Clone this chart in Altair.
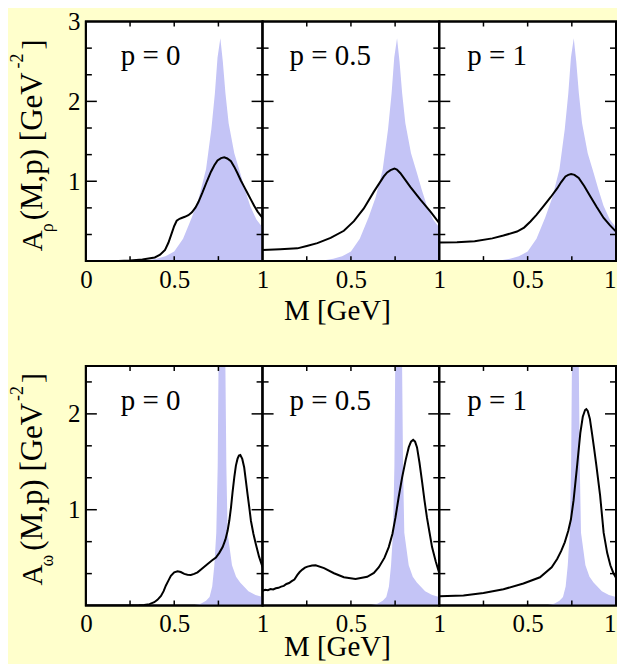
import altair as alt
import pandas as pd

# ---------------- data ----------------
# vacuum rho spectral function (blue shaded, same in all top panels)
rho_vac_M = [0.30, 0.35, 0.40, 0.45, 0.50, 0.55, 0.60, 0.64, 0.68, 0.71, 0.73, 0.745, 0.761,
             0.775, 0.79, 0.808, 0.84, 0.874, 0.90, 0.93, 0.965, 1.0]
rho_vac_A = [0.0, 0.01, 0.03, 0.06, 0.12, 0.28, 0.55, 0.80, 1.15, 1.65, 2.10, 2.55, 2.79,
             2.50, 2.10, 1.725, 1.35, 1.10, 0.90, 0.69, 0.52, 0.42]

# in-medium rho, p = 0
rho_p0_M = [0, 0.15, 0.25, 0.32, 0.39, 0.42, 0.448, 0.467, 0.486, 0.50, 0.514, 0.53, 0.542, 0.56,
            0.58, 0.60, 0.62, 0.637, 0.66, 0.685, 0.708, 0.727, 0.745, 0.765, 0.783, 0.80, 0.821,
            0.84, 0.858, 0.877, 0.896, 0.915, 0.934, 0.953, 0.972, 0.986, 1.0]
rho_p0_A = [0, 0.0, 0.009, 0.02, 0.046, 0.08, 0.14, 0.23, 0.35, 0.44, 0.505, 0.53, 0.54, 0.555,
            0.575, 0.61, 0.67, 0.74, 0.86, 1.0, 1.12, 1.2, 1.26, 1.29, 1.30, 1.285, 1.25,
            1.18, 1.10, 1.01, 0.93, 0.85, 0.77, 0.69, 0.62, 0.58, 0.54]

# in-medium rho, p = 0.5
rho_p05_M = [0, 0.1, 0.197, 0.25, 0.31, 0.385, 0.46, 0.517, 0.573, 0.63, 0.686, 0.705, 0.724,
             0.746, 0.76, 0.78, 0.836, 0.893, 0.95, 1.0]
rho_p05_A = [0.14, 0.148, 0.16, 0.19, 0.225, 0.29, 0.38, 0.50, 0.66, 0.87, 1.06, 1.11, 1.14,
             1.16, 1.145, 1.10, 0.93, 0.77, 0.62, 0.475]

# in-medium rho, p = 1
rho_p1_M = [0, 0.1, 0.2, 0.3, 0.363, 0.44, 0.48, 0.516, 0.55, 0.59, 0.63, 0.667, 0.69, 0.714,
            0.73, 0.746, 0.765, 0.789, 0.82, 0.855, 0.89, 0.93, 0.965, 1.0]
rho_p1_A = [0.233, 0.236, 0.248, 0.285, 0.32, 0.37, 0.42, 0.496, 0.58, 0.69, 0.80, 0.91, 0.99,
            1.06, 1.08, 1.09, 1.08, 1.04, 0.94, 0.81, 0.68, 0.54, 0.45, 0.37]

# vacuum omega spectral function (blue shaded, clipped at the top)
om_vac_M = [0.60, 0.65, 0.68, 0.70, 0.715, 0.727, 0.738, 0.746, 0.751, 0.76, 0.77, 0.78, 0.789,
            0.795, 0.802, 0.827, 0.85, 0.873, 0.92, 0.96, 1.0]
om_vac_A = [0.0, 0.02, 0.05, 0.09, 0.20, 0.42, 0.76, 1.46, 2.6, 4.0, 5.0, 4.0, 2.6,
            1.46, 0.76, 0.42, 0.30, 0.24, 0.15, 0.11, 0.09]

# in-medium omega, p = 0
om_p0_M = [0, 0.2, 0.3, 0.33, 0.36, 0.387, 0.405, 0.425, 0.44, 0.453, 0.467, 0.481, 0.5, 0.519,
           0.537, 0.557, 0.575, 0.594, 0.613, 0.632, 0.66, 0.689, 0.713, 0.736, 0.755, 0.774,
           0.79, 0.802, 0.812, 0.821, 0.83, 0.84, 0.849, 0.858, 0.866, 0.874, 0.885, 0.896,
           0.905, 0.915, 0.925, 0.934, 0.948, 0.962, 0.98, 1.0]
om_p0_A = [0, 0, 0.002, 0.007, 0.015, 0.035, 0.06, 0.10, 0.15, 0.21, 0.26, 0.31, 0.347, 0.358,
           0.35, 0.33, 0.322, 0.32, 0.33, 0.347, 0.39, 0.434, 0.47, 0.50, 0.55, 0.61,
           0.69, 0.78, 0.89, 1.02, 1.18, 1.34, 1.46, 1.53, 1.565, 1.57, 1.53, 1.44,
           1.31, 1.16, 1.02, 0.885, 0.75, 0.64, 0.51, 0.40]

# in-medium omega, p = 0.5
om_p05_M = [0, 0.015, 0.03, 0.045, 0.06, 0.075, 0.09, 0.105, 0.12, 0.135, 0.15, 0.165, 0.18,
            0.197, 0.21, 0.225, 0.24, 0.254, 0.28, 0.3, 0.348, 0.404, 0.46, 0.526, 0.592, 0.63,
            0.658, 0.69, 0.714, 0.735, 0.752, 0.77, 0.79, 0.81, 0.827, 0.84, 0.852, 0.863,
            0.874, 0.888, 0.902, 0.916, 0.93, 0.945, 0.959, 0.98, 1.0]
om_p05_A = [0.155, 0.165, 0.16, 0.172, 0.168, 0.18, 0.185, 0.198, 0.205, 0.225, 0.235, 0.255,
            0.272, 0.32, 0.35, 0.375, 0.395, 0.406, 0.418, 0.42, 0.39, 0.337, 0.295, 0.278,
            0.30, 0.34, 0.40, 0.50, 0.61, 0.75, 0.92, 1.13, 1.34, 1.52, 1.65, 1.71, 1.73, 1.71,
            1.65, 1.49, 1.30, 1.10, 0.92, 0.76, 0.61, 0.46, 0.337]

# in-medium omega, p = 1
om_p1_M = [0, 0.137, 0.25, 0.363, 0.476, 0.57, 0.636, 0.667, 0.69, 0.71, 0.73, 0.745, 0.76,
           0.78, 0.798, 0.812, 0.825, 0.832, 0.84, 0.852, 0.864, 0.876, 0.889, 0.91, 0.93,
           0.95, 0.968, 0.985, 1.0]
om_p1_A = [0.097, 0.104, 0.13, 0.17, 0.23, 0.295, 0.40, 0.486, 0.57, 0.66, 0.78, 0.90, 1.1,
           1.46, 1.8, 1.97, 2.04, 2.05, 2.03, 1.95, 1.8, 1.64, 1.46, 1.15, 0.76,
           0.55, 0.42, 0.34, 0.29]

panel_labels = ["p = 0", "p = 0.5", "p = 1"]

x_tick_values = [0.25, 0.5, 0.75]
x_labels_first = [0, 0.5, 1]
x_labels_other = [0.5, 1]

rho_y_major = [1, 2]
rho_y_minor = [1/3, 2/3, 4/3, 5/3, 7/3, 8/3]
rho_y_labels = [1, 2, 3]
om_y_major = [1, 2]
om_y_minor = [1/3, 2/3, 4/3, 5/3, 7/3]
om_y_labels = [1, 2]

# ---------------- styling ----------------
W, H = 177, 240
FONT = "Liberation Serif"
BLUE = "#c4c4f6"
LABEL_X = [35, 27, 28]


def panel(idx, vacM, vacA, M, A, ymax, y_major, y_minor, y_labels, ytitle_parts, xtitle_dy):
    xs = alt.Scale(domain=[0, 1], nice=False, zero=False)
    ys = alt.Scale(domain=[0, ymax], nice=False, zero=False)

    x_axis = alt.Axis(values=x_labels_first if idx == 0 else x_labels_other, format=".1~f",
                      ticks=False, domain=False, grid=False, labelFont=FONT, labelFontSize=25,
                      labelColor="black", labelPadding=6, labelFlush=(idx == 2),
                      labelOverlap=False, title=None)
    if idx == 0:
        y_axis = alt.Axis(values=y_labels, format="d", ticks=False, domain=False, grid=False,
                          labelFont=FONT, labelFontSize=25, labelColor="black",
                          labelPadding=6, labelFlush=False, labelOverlap=False, title=None)
    else:
        y_axis = alt.Axis(values=y_labels, ticks=False, domain=False, grid=False,
                          labels=False, title=None)

    vac = pd.DataFrame({"M": vacM, "A": vacA})
    cur = pd.DataFrame({"M": M, "A": A})

    area = alt.Chart(vac).mark_area(color=BLUE, clip=True, opacity=1).encode(
        x=alt.X("M:Q", scale=xs, axis=x_axis),
        y=alt.Y("A:Q", scale=ys, axis=y_axis),
    )
    line = alt.Chart(cur).mark_line(color="black", strokeWidth=2, clip=True).encode(
        x=alt.X("M:Q", scale=xs, axis=x_axis),
        y=alt.Y("A:Q", scale=ys, axis=y_axis),
    )

    layers = [area, line]

    def yt(vals, x0, x1):
        return alt.Chart(pd.DataFrame({"v": vals})).mark_rule(color="black", strokeWidth=1.5).encode(
            x=alt.value(x0), x2=alt.value(x1), y=alt.Y("v:Q", scale=ys, axis=y_axis))

    def xt(y0, y1):
        return alt.Chart(pd.DataFrame({"v": x_tick_values})).mark_rule(color="black", strokeWidth=1.5).encode(
            x=alt.X("v:Q", scale=xs, axis=x_axis), y=alt.value(y0), y2=alt.value(y1))

    layers += [yt(y_major, 0, 11), yt(y_minor, 0, 6), yt(y_major, W - 11, W), yt(y_minor, W - 6, W),
               xt(0, 5), xt(H - 5, H)]

    frame = alt.Chart(pd.DataFrame({"f": [0]})).mark_rect(fill="transparent", stroke="black", strokeWidth=2).encode(
        x=alt.value(0), x2=alt.value(W), y=alt.value(0), y2=alt.value(H))
    layers.append(frame)

    lab = alt.Chart(pd.DataFrame({"t": [panel_labels[idx]]})).mark_text(
        align="left", baseline="alphabetic", font=FONT, fontSize=29, color="black").encode(
        x=alt.value(LABEL_X[idx]), y=alt.value(44), text="t:N")
    layers.append(lab)

    if ytitle_parts:
        for txt, xx, yy, fs in ytitle_parts:
            layers.append(alt.Chart(pd.DataFrame({"t": [txt]})).mark_text(
                align="left", baseline="alphabetic", angle=270, font=FONT, fontSize=fs,
                color="black").encode(x=alt.value(xx), y=alt.value(yy), text="t:N"))
    if xtitle_dy:
        layers.append(alt.Chart(pd.DataFrame({"t": ["M [GeV]"]})).mark_text(
            align="center", baseline="alphabetic", font=FONT, fontSize=29, color="black").encode(
            x=alt.value(75), y=alt.value(H + xtitle_dy), text="t:N"))

    return alt.layer(*layers).properties(width=W, height=H)


rho_title = [("A", -44, 230, 29), ("ρ", -33, 211, 18), ("(M,p) [GeV", -44, 199, 31),
             ("-2", -63, 47, 18), ("]", -44, 28, 30)]
om_title = [("A", -44, 220, 29), ("ω", -33, 201, 18), ("(M,p) [GeV", -44, 185, 31),
            ("-2", -63, 35, 18), ("]", -44, 17, 30)]

top_data = [(rho_p0_M, rho_p0_A), (rho_p05_M, rho_p05_A), (rho_p1_M, rho_p1_A)]
bot_data = [(om_p0_M, om_p0_A), (om_p05_M, om_p05_A), (om_p1_M, om_p1_A)]

top = alt.hconcat(*[
    panel(i, rho_vac_M, rho_vac_A, m, a, 3, rho_y_major, rho_y_minor, rho_y_labels,
          rho_title if i == 0 else None, 59 if i == 1 else None)
    for i, (m, a) in enumerate(top_data)], spacing=0, bounds="flush")

bot = alt.hconcat(*[
    panel(i, om_vac_M, om_vac_A, m, a, 2.5, om_y_major, om_y_minor, om_y_labels,
          om_title if i == 0 else None, 51 if i == 1 else None)
    for i, (m, a) in enumerate(bot_data)], spacing=0, bounds="flush")

chart = alt.vconcat(top, bot, spacing=37).configure(
    background="#ffffcc", padding={"left": 0, "top": 0, "right": -1, "bottom": 0}
).configure_view(fill="white", stroke="black", strokeWidth=2)

chart.save("out.html", embed_options={"renderer": "svg", "actions": False})
